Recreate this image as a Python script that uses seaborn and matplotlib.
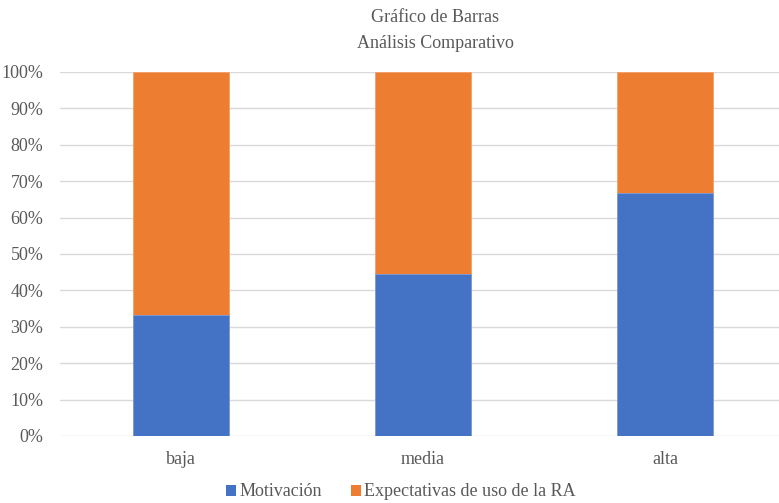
import matplotlib
matplotlib.use('Agg')
import matplotlib.pyplot as plt
import seaborn as sns
import pandas as pd
from matplotlib.ticker import PercentFormatter
from matplotlib.patches import Patch

niveles = ["baja", "media", "alta"]
motivacion = [33.3, 44.4, 66.7]
expectativas = [66.7, 55.6, 33.3]
series = ["Motivación", "Expectativas de uso de la RA"]
colores = ["#4472C4", "#ED7D31"]
yticks = list(range(0, 101, 10))

sns.set_style("white")
plt.rcParams['font.family'] = ['Liberation Serif', 'DejaVu Serif']
gris = "#595959"

df = pd.DataFrame({"nivel": niveles, "mot": motivacion, "exp": expectativas})
df["total"] = df["mot"] + df["exp"]

fig = plt.figure(figsize=(7.79, 5.03), dpi=100)
ax = fig.add_axes([60/779, 1-436/503, 1-60/779, 364/503])

sns.barplot(data=df, x="nivel", y="total", color=colores[1], width=0.397,
            saturation=1, ax=ax, zorder=3, edgecolor="#f5a06a", linewidth=0.6)
sns.barplot(data=df, x="nivel", y="mot", color=colores[0], width=0.397,
            saturation=1, ax=ax, zorder=3, edgecolor="#7f9fd8", linewidth=0.6)

ax.set_ylim(0, 100)
ax.set_xlim(-0.5, 2.471)
ax.set_yticks(yticks)
ax.yaxis.set_major_formatter(PercentFormatter(decimals=0))
ax.grid(axis="y", color="#d9d9d9", linewidth=1.0, zorder=0)
ax.set_axisbelow(True)
for s in ax.spines.values():
    s.set_visible(False)
ax.set_xlabel("")
ax.set_ylabel("")
ax.tick_params(axis="both", length=0, labelsize=13, colors=gris)
ax.tick_params(axis="x", pad=11)
ax.tick_params(axis="y", pad=12)

fig.text(435/779, 1-18/503, "Gráfico de Barras", ha="center", va="center",
         fontsize=13, color=gris)
fig.text(435/779, 1-43/503, "Análisis Comparativo", ha="center", va="center",
         fontsize=13, color=gris)

handles = [Patch(facecolor=c, edgecolor="none") for c in colores]
fig.legend(handles, series, loc="center", bbox_to_anchor=(401/779, 1-492/503),
           ncol=2, frameon=False, fontsize=13, handlelength=0.55, handleheight=0.55,
           handletextpad=0.2, columnspacing=1.6, labelcolor=gris,
           borderpad=0, borderaxespad=0)

fig.savefig("out.png", dpi=100)
